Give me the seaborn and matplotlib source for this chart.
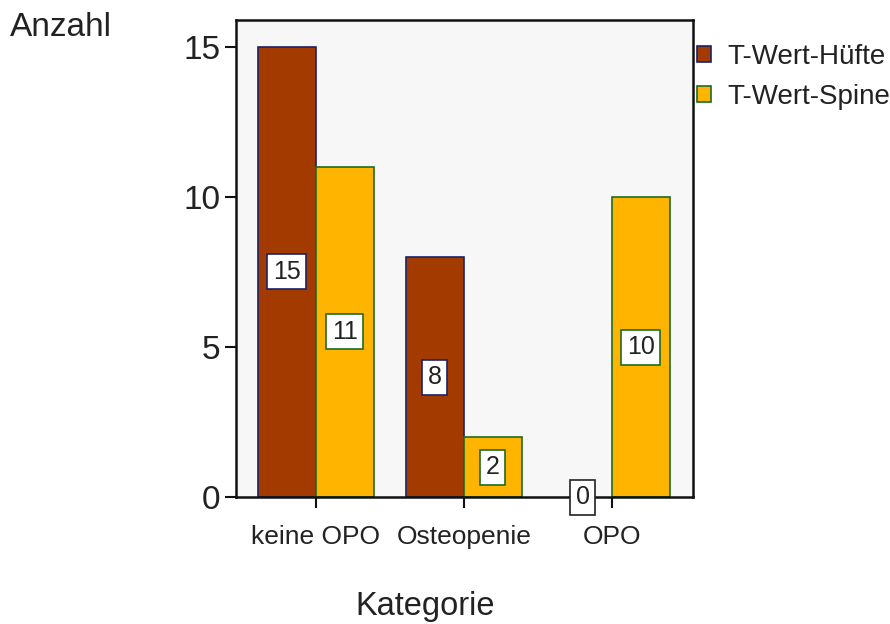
import matplotlib
matplotlib.use("Agg")
import matplotlib.pyplot as plt
import seaborn as sns
import pandas as pd
from matplotlib.patches import Patch

categories = ["keine OPO", "Osteopenie", "OPO"]
series_names = ["T-Wert-Hüfte", "T-Wert-Spine"]
hip_values = [15, 8, 0]
spine_values = [11, 2, 10]
y_ticks = [0, 5, 10, 15]

fill_colors = ["#A33A00", "#FFB500"]
edge_colors = ["#1B2466", "#1F6B1F"]
text_color = "#222222"

df = pd.DataFrame({
    "Kategorie": categories * 2,
    "Serie": [series_names[0]] * 3 + [series_names[1]] * 3,
    "Anzahl": hip_values + spine_values,
})

sns.set_theme(style="white")
plt.rcParams["font.family"] = ["Liberation Sans", "DejaVu Sans"]

fig = plt.figure(figsize=(8.9, 6.24), dpi=100)
ax = fig.add_axes([0.265, 0.2035, 0.514, 0.7645])
ax.set_facecolor("#F7F7F7")

sns.barplot(data=df, x="Kategorie", y="Anzahl", hue="Serie", order=categories,
            hue_order=series_names, palette=fill_colors, width=0.784,
            saturation=1, ax=ax, legend=False, errorbar=None)

series_values = [hip_values, spine_values]
for i, cont in enumerate(ax.containers):
    for p in cont.patches:
        p.set_edgecolor(edge_colors[i])
        p.set_linewidth(1.2 if p.get_height() > 0 else 0)
    texts = ax.bar_label(cont, labels=[str(int(v)) for v in series_values[i]],
                         label_type="center", fontsize=18, color=text_color,
                         bbox=dict(boxstyle="square,pad=0.22", facecolor="white",
                                   edgecolor=edge_colors[i], linewidth=1.2))
    for t, v in zip(texts, series_values[i]):
        if v == 0:
            t.get_bbox_patch().set_edgecolor("#222222")

ax.set_ylim(0, 15.9)
ax.set_xlim(-0.54, 2.55)
ax.set_yticks(y_ticks)
ax.set_yticklabels([str(t) for t in y_ticks], fontsize=24, color=text_color)
ax.set_xticks(range(len(categories)))
ax.set_xticklabels(categories, fontsize=19, color=text_color)
ax.tick_params(axis="both", direction="out", length=8, width=1.5, color="#111111",
               left=True, bottom=True)
ax.tick_params(axis="y", pad=3)
ax.tick_params(axis="x", pad=12)
for s in ax.spines.values():
    s.set_visible(True)
    s.set_color("#111111")
    s.set_linewidth(1.8)
ax.set_xlabel("")
ax.set_ylabel("")

fig.text(10 / 890, 1 - 27 / 624, "Anzahl", fontsize=24, color=text_color,
         ha="left", va="center")
fig.text(425 / 890, 1 - 607 / 624, "Kategorie", fontsize=23.5, color=text_color,
         ha="center", va="center")

handles = [Patch(facecolor=fill_colors[i], edgecolor=edge_colors[i], linewidth=1.2,
                 label=series_names[i]) for i in range(2)]
fig.legend(handles=handles, loc="upper left", bbox_to_anchor=(694 / 890, 1 - 41 / 624),
           frameon=False, fontsize=20, handlelength=0.5, handleheight=0.5,
           handletextpad=0.6, labelspacing=0.5, borderaxespad=0, borderpad=0.1,
           labelcolor=text_color)

fig.savefig("out.png", dpi=100)
